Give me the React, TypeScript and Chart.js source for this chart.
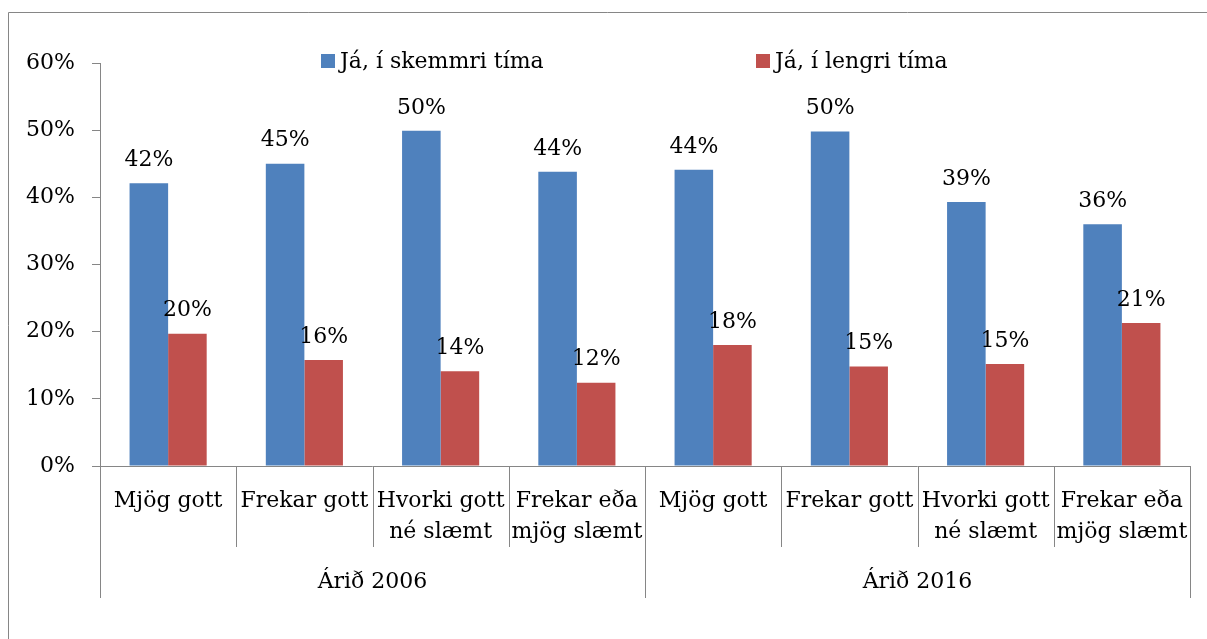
import React, { useEffect, useRef } from "react";
import { Chart, registerables } from "chart.js";

Chart.register(...registerables);

const years: string[] = ["Árið 2006", "Árið 2016"];
const subCategories: string[][] = [
  ["Mjög gott"],
  ["Frekar gott"],
  ["Hvorki gott", "né slæmt"],
  ["Frekar eða", "mjög slæmt"],
];
const categoryLabels: string[][] = [
  ...subCategories,
  ...subCategories,
];
const seriesNames: string[] = ["Já, í skemmri tíma", "Já, í lengri tíma"];
const shortTerm: number[] = [42.1, 45.0, 49.9, 43.8, 44.1, 49.8, 39.3, 36.0];
const longTerm: number[] = [19.7, 15.8, 14.1, 12.4, 18.0, 14.8, 15.2, 21.3];
const yTicks: number[] = [0, 10, 20, 30, 40, 50, 60];

const BLUE = "#4F81BD";
const RED = "#C0504D";
const GRAY = "#868686";
const FONT = "DejaVu Serif";

export default function App() {
  const canvasRef = useRef<HTMLCanvasElement | null>(null);

  useEffect(() => {
    const canvas = canvasRef.current;
    if (!canvas) return;

    const decor = {
      id: "decor",
      beforeDraw(chart: any) {
        const ctx = chart.ctx;
        ctx.save();
        ctx.fillStyle = "#ffffff";
        ctx.fillRect(0, 0, chart.width, chart.height);
        ctx.strokeStyle = GRAY;
        ctx.lineWidth = 1;
        ctx.beginPath();
        ctx.moveTo(8.5, chart.height);
        ctx.lineTo(8.5, 12.5);
        ctx.lineTo(chart.width, 12.5);
        ctx.stroke();
        ctx.restore();
      },
      afterDatasetsDraw(chart: any) {
        const ctx = chart.ctx;
        ctx.save();
        ctx.font = `22px "${FONT}"`;
        ctx.fillStyle = "#000000";
        ctx.textAlign = "center";
        ctx.textBaseline = "middle";
        chart.data.datasets.forEach((ds: any, di: number) => {
          const meta = chart.getDatasetMeta(di);
          meta.data.forEach((bar: any, i: number) => {
            const v = ds.data[i];
            ctx.fillText(Math.round(v) + "%", bar.x, bar.y - 23);
          });
        });
        ctx.restore();
      },
      afterDraw(chart: any) {
        const ctx = chart.ctx;
        const area = chart.chartArea;
        const xs = chart.scales.x;
        const n = categoryLabels.length;
        const step = n > 1 ? xs.getPixelForValue(1) - xs.getPixelForValue(0) : area.right - area.left;
        const boundary = (i: number) => xs.getPixelForValue(0) - step / 2 + i * step;
        const bottom = area.bottom;
        ctx.save();
        ctx.strokeStyle = GRAY;
        ctx.lineWidth = 1;
        ctx.beginPath();
        ctx.moveTo(area.left, Math.round(bottom) + 0.5);
        ctx.lineTo(area.right, Math.round(bottom) + 0.5);
        ctx.stroke();
        const perGroup = subCategories.length;
        for (let i = 0; i <= n; i++) {
          const x = Math.round(boundary(i)) + 0.5;
          const isGroupEdge = i % perGroup === 0;
          ctx.beginPath();
          ctx.moveTo(x, bottom);
          ctx.lineTo(x, bottom + (isGroupEdge ? 132 : 81));
          ctx.stroke();
        }
        ctx.fillStyle = "#000000";
        ctx.font = `22px "${FONT}"`;
        ctx.textAlign = "center";
        ctx.textBaseline = "middle";
        categoryLabels.forEach((lines, i) => {
          const cx = xs.getPixelForValue(i);
          lines.forEach((line, li) => {
            ctx.fillText(line, cx, bottom + 35 + li * 31);
          });
        });
        years.forEach((y, gi) => {
          const cx = (boundary(gi * perGroup) + boundary((gi + 1) * perGroup)) / 2;
          ctx.fillText(y, cx, bottom + 116);
        });
        const colors = [BLUE, RED];
        const offsets = [221, 656];
        const ly = 62;
        ctx.textAlign = "left";
        seriesNames.forEach((name, si) => {
          const sx = area.left + offsets[si];
          ctx.fillStyle = colors[si];
          ctx.fillRect(sx, ly - 8, 14, 14);
          ctx.fillStyle = "#000000";
          ctx.fillText(name, sx + 19, ly);
        });
        ctx.restore();
      },
    };

    const chart = new Chart(canvas, {
      type: "bar",
      data: {
        labels: categoryLabels.map((l) => l.join(" ")),
        datasets: [
          {
            label: seriesNames[0],
            data: shortTerm,
            backgroundColor: BLUE,
            categoryPercentage: 0.566,
            barPercentage: 1.0,
          },
          {
            label: seriesNames[1],
            data: longTerm,
            backgroundColor: RED,
            categoryPercentage: 0.566,
            barPercentage: 1.0,
          },
        ],
      },
      options: {
        responsive: false,
        animation: false,
        layout: { padding: { top: 63, bottom: 173, right: 17, left: 0 } },
        plugins: {
          legend: { display: false },
          tooltip: { enabled: false },
        },
        scales: {
          x: { display: false },
          y: {
            min: 0,
            max: 60,
            afterFit(scale: any) {
              scale.width = 100;
            },
            afterBuildTicks(scale: any) {
              scale.ticks = yTicks.map((v) => ({ value: v }));
            },
            ticks: {
              font: { family: FONT, size: 22 },
              color: "#000000",
              padding: 17,
              callback: (v: any) => v + "%",
            },
            grid: {
              display: true,
              drawOnChartArea: false,
              drawTicks: true,
              tickLength: 8,
              color: GRAY,
            },
            border: { display: true, color: GRAY, width: 1 },
          },
        },
      },
      plugins: [decor],
    });

    return () => chart.destroy();
  }, []);

  return (
    <div style={{ position: "absolute", left: 0, top: 0, width: 1207, height: 639 }}>
      <canvas ref={canvasRef} width={1207} height={639} />
    </div>
  );
}
